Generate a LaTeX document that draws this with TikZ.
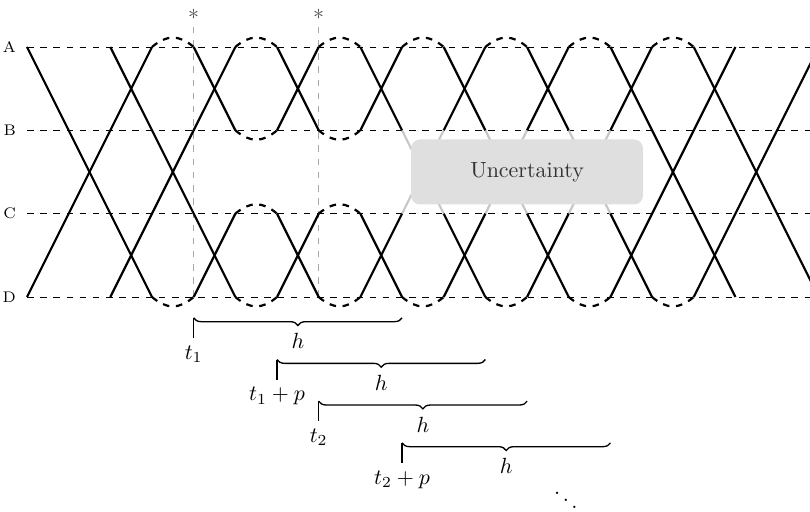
\documentclass[tikz,border=0pt]{standalone}
\usepackage{amsmath}
\usetikzlibrary{decorations.pathreplacing,positioning}

\begin{document}
\begin{tikzpicture}[x=0.6667cm, y=1.3333cm,
    track/.style={dashed, line width=0.4pt},
    lvl/.style={font=\scriptsize, anchor=east},
    run/.style={line width=1pt},
    turn/.style={line width=1pt, dashed},
    fuzzy/.style={line width=1pt, black!22},
    guide/.style={dashed, black!35, line width=0.5pt},
    cap up/.style={to path={.. controls +(0.35,0.15) and +(-0.35,0.15) .. (\tikztotarget)}},
    cap down/.style={to path={.. controls +(0.35,-0.15) and +(-0.35,-0.15) .. (\tikztotarget)}},
    hbrace/.style={decorate, decoration={brace, mirror, amplitude=3.5pt}, line width=0.6pt},
    tick/.style={line width=0.6pt},
]
    \useasboundingbox (-0.648,-2.568) rectangle (18.79,3.564);

    % Levels
    \draw[track] (0,3) -- (18.79,3);
    \draw[track] (0,2) -- (18.79,2);
    \draw[track] (0,1) -- (18.79,1);
    \draw[track] (0,0) -- (18.79,0);
    \node[lvl] (nA) at (-0.08,3) {A};
    \node[lvl] (nB) at (-0.08,2) {B};
    \node[lvl] (nC) at (-0.08,1) {C};
    \node[lvl] (nD) at (-0.08,0) {D};

    % Marked instants
    \node[text=black!70, inner sep=0.5pt] (st1) at (4,3.39) {$*$};
    \node[text=black!70, inner sep=0.5pt] (st2) at (7,3.39) {$*$};
    \draw[guide] (4,0) -- (4,3.27);
    \draw[guide] (7,0) -- (7,3.27);

    % Uncertain stretch, behind the box
    \draw[fuzzy] (9,2) -- (10,1) (9,1) -- (10,2) (11,2) -- (12,1)
                 (11,1) -- (12,2) (13,2) -- (14,1) (13,1) -- (14,2);
    \node[fill=black!12.5, rounded corners=4pt, minimum width=3.71cm,
          minimum height=1.04cm, text=black!80] (unc) at (12,1.5) {Uncertainty};

    \begin{scope}
    \clip (-0.648,-0.5) rectangle (18.79,3.5);
    % Runs
    \draw[run] (0,3) -- (3,0) (4,0) -- (5,1) (6,1) -- (7,0) (8,0) -- (9,1)
               (10,2) -- (11,3) (12,3) -- (13,2) (14,1) -- (15,0) (16,0) -- (19,3);
    \draw[run] (2,3) -- (5,0) (6,0) -- (7,1) (8,1) -- (9,0) (10,0) -- (11,1)
               (12,2) -- (13,3) (14,3) -- (17,0);
    \draw[run] (0,0) -- (3,3) (4,3) -- (5,2) (6,2) -- (7,3) (8,3) -- (9,2)
               (10,1) -- (11,0) (12,0) -- (13,1) (14,2) -- (15,3) (16,3) -- (19,0);
    \draw[run] (2,0) -- (5,3) (6,3) -- (7,2) (8,2) -- (9,3) (10,3) -- (11,2)
               (12,1) -- (13,0) (14,0) -- (17,3);
    \end{scope}

    % Turnarounds
    \draw[turn] (3,3) to[cap up] (4,3) (5,3) to[cap up] (6,3) (7,3) to[cap up] (8,3)
                (9,3) to[cap up] (10,3) (11,3) to[cap up] (12,3) (13,3) to[cap up] (14,3)
                (15,3) to[cap up] (16,3);
    \draw[turn] (5,2) to[cap down] (6,2) (7,2) to[cap down] (8,2);
    \draw[turn] (5,1) to[cap up] (6,1) (7,1) to[cap up] (8,1);
    \draw[turn] (3,0) to[cap down] (4,0) (5,0) to[cap down] (6,0) (7,0) to[cap down] (8,0)
                (9,0) to[cap down] (10,0) (11,0) to[cap down] (12,0) (13,0) to[cap down] (14,0)
                (15,0) to[cap down] (16,0);

    % Horizons
    \coordinate (s1) at (4,-0.25);   \coordinate (e1) at (9,-0.25);
    \coordinate (s2) at (6,-0.75);   \coordinate (e2) at (11,-0.75);
    \coordinate (s3) at (7,-1.25);   \coordinate (e3) at (12,-1.25);
    \coordinate (s4) at (9,-1.75);   \coordinate (e4) at (14,-1.75);

    \draw[tick] (s1) -- ++(0,-0.24) node[below] (l1) {$t_1$};
    \draw[hbrace] (s1) -- (e1) node[midway, below=3.5pt] (h1) {$h$};

    \draw[tick] (s2) -- ++(0,-0.24) node[below] (l2) {$t_1+p$};
    \draw[hbrace] (s2) -- (e2) node[midway, below=3.5pt] (h2) {$h$};

    \draw[tick] (s3) -- ++(0,-0.24) node[below] (l3) {$t_2$};
    \draw[hbrace] (s3) -- (e3) node[midway, below=3.5pt] (h3) {$h$};

    \draw[tick] (s4) -- ++(0,-0.24) node[below] (l4) {$t_2+p$};
    \draw[hbrace] (s4) -- (e4) node[midway, below=3.5pt] (h4) {$h$};

    \node[inner sep=0pt] (more) at (12.93,-2.36) {$\ddots$};
\end{tikzpicture}
\end{document}
